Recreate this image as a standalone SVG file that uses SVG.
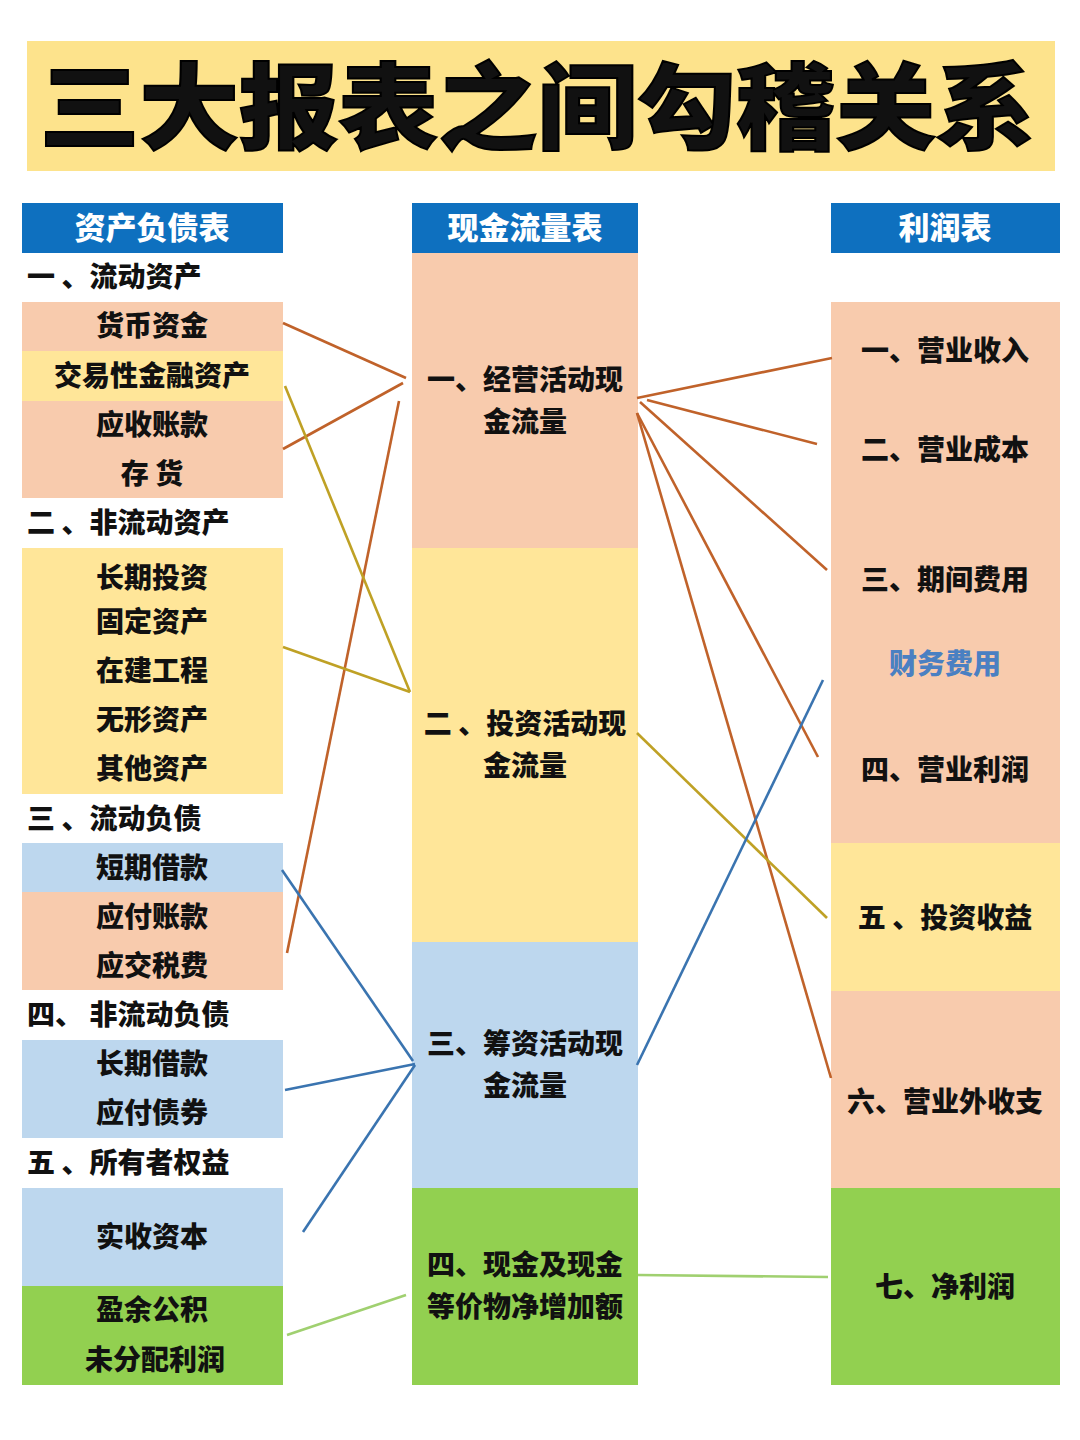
<svg xmlns="http://www.w3.org/2000/svg" width="1080" height="1440" viewBox="0 0 1080 1440">
<style>
text{font-family:"Noto Sans CJK SC","Noto Sans",sans-serif;font-weight:900;fill:#111;}
.t{font-size:28px;}
.c{text-anchor:middle;}
.h{font-size:31px;fill:#fff;text-anchor:middle;}
.title{font-size:94px;font-weight:900;stroke:#000;stroke-width:2px;}
.sal{fill:#f8cbad;}
.yel{fill:#ffe699;}
.blu{fill:#bdd7ee;}
.grn{fill:#92d050;}
.hdr{fill:#0e70bf;}
.br{stroke:#c0622a;stroke-width:2.6;fill:none;}
.ol{stroke:#bfa125;stroke-width:2.6;fill:none;}
.bl{stroke:#3a74b0;stroke-width:2.6;fill:none;}
.gr{stroke:#a0d070;stroke-width:2.6;fill:none;}
.fin{fill:#4a80c2;}
</style>
<rect width="1080" height="1440" fill="#fff"/>
<g id="title">
<rect x="27" y="41" width="1028" height="130" fill="#fde38c"/>
<text class="title" x="40" y="142" textLength="995" lengthAdjust="spacingAndGlyphs">三大报表之间勾稽关系</text>
</g>
<g id="balance-sheet">
<rect class="hdr" x="22" y="203" width="261" height="50"/>
<text class="h" x="152" y="239">资产负债表</text>
<text class="t" x="27" y="287">一 、流动资产</text>
<g id="bs-cash"><rect class="sal" x="22" y="302" width="261" height="49"/><text class="t c" x="152" y="336">货币资金</text></g>
<g id="bs-trading"><rect class="yel" x="22" y="351" width="261" height="50"/><text class="t c" x="152" y="386">交易性金融资产</text></g>
<g id="bs-receivable"><rect class="sal" x="22" y="401" width="261" height="97"/><text class="t c" x="152" y="435">应收账款</text><text class="t c" x="152" y="484">存 货</text></g>
<text class="t" x="27" y="533">二 、非流动资产</text>
<g id="bs-noncurrent"><rect class="yel" x="22" y="548" width="261" height="246"/>
<text class="t c" x="152" y="588">长期投资</text>
<text class="t c" x="152" y="632">固定资产</text>
<text class="t c" x="152" y="681">在建工程</text>
<text class="t c" x="152" y="730">无形资产</text>
<text class="t c" x="152" y="779">其他资产</text></g>
<text class="t" x="27" y="829">三 、流动负债</text>
<g id="bs-shortloan"><rect class="blu" x="22" y="843" width="261" height="49"/><text class="t c" x="152" y="878">短期借款</text></g>
<g id="bs-payable"><rect class="sal" x="22" y="892" width="261" height="98"/><text class="t c" x="152" y="927">应付账款</text><text class="t c" x="152" y="976">应交税费</text></g>
<text class="t" x="27" y="1025">四、 非流动负债</text>
<g id="bs-longloan"><rect class="blu" x="22" y="1040" width="261" height="98"/><text class="t c" x="152" y="1074">长期借款</text><text class="t c" x="152" y="1123">应付债券</text></g>
<text class="t" x="27" y="1173">五 、所有者权益</text>
<g id="bs-capital"><rect class="blu" x="22" y="1188" width="261" height="98"/><text class="t c" x="152" y="1247">实收资本</text></g>
<g id="bs-surplus"><rect class="grn" x="22" y="1286" width="261" height="99"/><text class="t c" x="152" y="1320">盈余公积</text><text class="t c" x="155" y="1370">未分配利润</text></g>
</g>
<g id="cash-flow">
<rect class="hdr" x="412" y="203" width="226" height="50"/>
<text class="h" x="525" y="239">现金流量表</text>
<g id="cf-operating"><rect class="sal" x="412" y="253" width="226" height="295"/><text class="t c" x="525" y="390">一、经营活动现</text><text class="t c" x="525" y="432">金流量</text></g>
<g id="cf-investing"><rect class="yel" x="412" y="548" width="226" height="394"/><text class="t c" x="525" y="734">二 、投资活动现</text><text class="t c" x="525" y="776">金流量</text></g>
<g id="cf-financing"><rect class="blu" x="412" y="942" width="226" height="246"/><text class="t c" x="525" y="1054">三、筹资活动现</text><text class="t c" x="525" y="1096">金流量</text></g>
<g id="cf-net"><rect class="grn" x="412" y="1188" width="226" height="197"/><text class="t c" x="525" y="1275">四、现金及现金</text><text class="t c" x="525" y="1317">等价物净增加额</text></g>
</g>
<g id="income-statement">
<rect class="hdr" x="831" y="203" width="229" height="50"/>
<text class="h" x="945" y="239">利润表</text>
<g id="is-top"><rect class="sal" x="831" y="302" width="229" height="541"/>
<text class="t c" x="945" y="361">一、营业收入</text>
<text class="t c" x="945" y="460">二、营业成本</text>
<text class="t c" x="945" y="590">三、期间费用</text>
<text class="t c fin" x="945" y="674">财务费用</text>
<text class="t c" x="945" y="780">四、营业利润</text></g>
<g id="is-invest"><rect class="yel" x="831" y="843" width="229" height="148"/><text class="t c" x="945" y="928">五 、投资收益</text></g>
<g id="is-nonop"><rect class="sal" x="831" y="991" width="229" height="197"/><text class="t c" x="945" y="1112">六、营业外收支</text></g>
<g id="is-net"><rect class="grn" x="831" y="1188" width="229" height="197"/><text class="t c" x="945" y="1297">七、净利润</text></g>
</g>
<g id="connectors">
<line class="br" x1="283" y1="323" x2="406" y2="378"/>
<line class="br" x1="283" y1="449" x2="403" y2="383"/>
<line class="br" x1="287" y1="953" x2="399" y2="401"/>
<line class="ol" x1="285" y1="386" x2="410" y2="692"/>
<line class="ol" x1="283" y1="647" x2="410" y2="692"/>
<line class="bl" x1="282" y1="870" x2="413" y2="1061"/>
<line class="bl" x1="285" y1="1090" x2="415" y2="1064"/>
<line class="bl" x1="303" y1="1232" x2="415" y2="1065"/>
<line class="gr" x1="287" y1="1335" x2="406" y2="1295"/>
<line class="br" x1="637" y1="398" x2="832" y2="358"/>
<line class="br" x1="647" y1="400" x2="817" y2="444"/>
<line class="br" x1="640" y1="402" x2="827" y2="570"/>
<line class="br" x1="637" y1="413" x2="818" y2="757"/>
<line class="br" x1="637" y1="413" x2="831" y2="1078"/>
<line class="ol" x1="637" y1="733" x2="827" y2="918"/>
<line class="bl" x1="637" y1="1065" x2="823" y2="680"/>
<line class="gr" x1="638" y1="1275" x2="828" y2="1277"/>
</g>
</svg>
